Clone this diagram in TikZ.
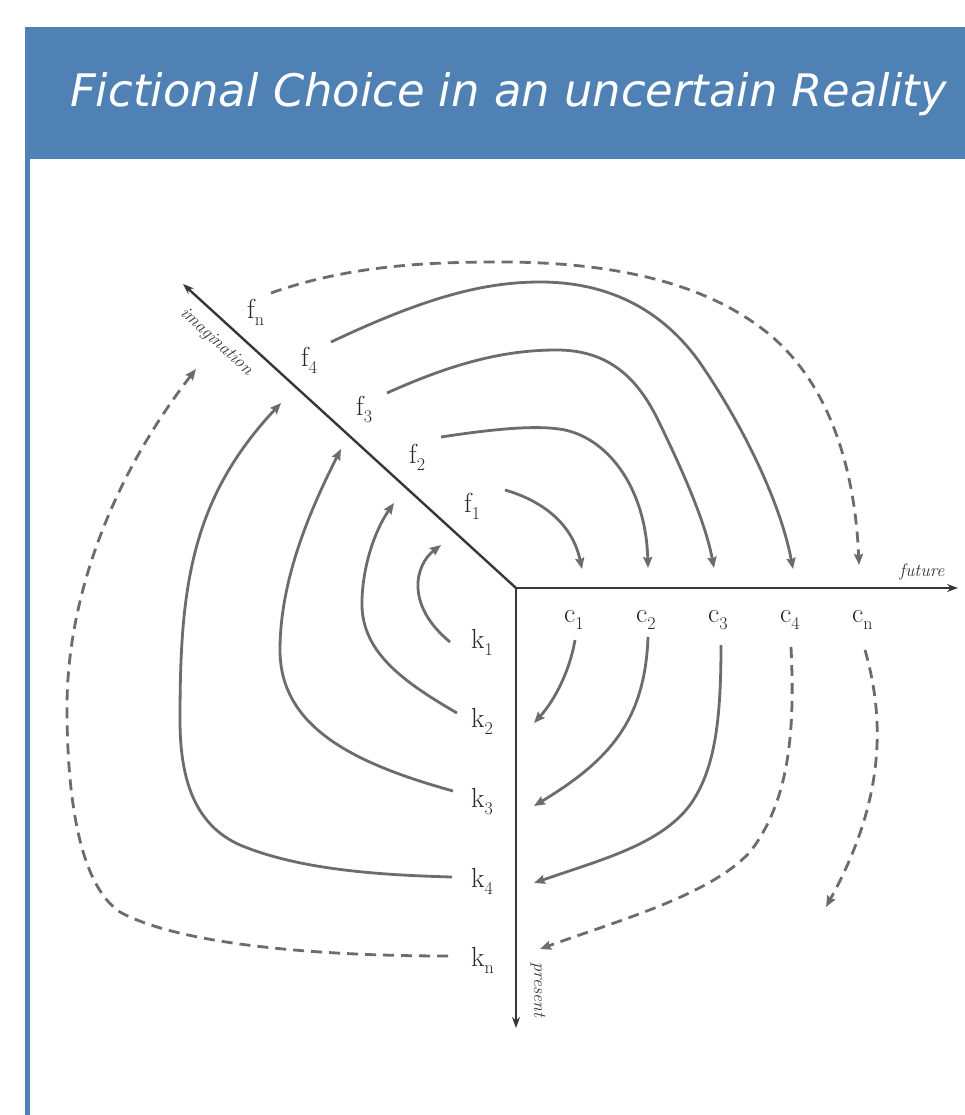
\documentclass[tikz,border=0pt]{standalone}
\usepackage{fontspec}
\newfontfamily\titlefont{DejaVu Sans}
\usetikzlibrary{arrows.meta}
\definecolor{hdrblue}{RGB}{79,129,181}
\definecolor{axisgray}{RGB}{55,55,55}
\definecolor{curvegray}{RGB}{108,108,108}
\newcommand{\lab}[2]{#1\raisebox{-7pt}{\fontsize{18}{18}\selectfont #2}}
\tikzset{
  axisline/.style={line width=2.4pt, draw=axisgray, -{Stealth[length=11pt,width=8pt]}},
  flow/.style={line width=2.8pt, draw=curvegray, -{Stealth[length=11pt,width=9pt,inset=1.5pt]}},
  dflow/.style={flow, dash pattern=on 11pt off 7pt},
  lbl/.style={anchor=base west, inner sep=0pt, font=\fontsize{27.5}{30}\selectfont, text=black!85},
  axlbl/.style={inner sep=0pt, font=\fontsize{18}{20}\selectfont\itshape, text=axisgray}
}
\begin{document}
\begin{tikzpicture}[x=1pt,y=-1pt]
\useasboundingbox (0,0) rectangle (965,1115);
\fill[white] (0,0) rectangle (965,1115);
% header
\fill[hdrblue] (25,27) rectangle (965,159);
\fill[hdrblue] (25,159) rectangle (29.5,1115);
\node[anchor=base west, inner sep=0pt, text=white, font=\titlefont\itshape\fontsize{44.8}{50}\selectfont] (title) at (70,107) {Fictional Choice in an uncertain Reality};

% axes
\coordinate (O) at (516,588);
\coordinate (imgEnd) at (183,284);
\coordinate (futEnd) at (958,588);
\coordinate (preEnd) at (516,1028);
\draw[axisline] (O) -- (imgEnd);
\draw[axisline] (O) -- (futEnd);
\draw[axisline] (O) -- (preEnd);
\node[axlbl, rotate=-42.3] (imgLab) at (216,342) {imagination};
\node[axlbl] (futLab) at (922,572) {future};
\node[axlbl, rotate=-90] (preLab) at (538,990) {present};

% labels
\node[lbl] (fn) at (247,318) {\lab{f}{n}};
\node[lbl] (f4) at (301,366) {\lab{f}{4}};
\node[lbl] (f3) at (356,415) {\lab{f}{3}};
\node[lbl] (f2) at (409,463) {\lab{f}{2}};
\node[lbl] (f1) at (464,512) {\lab{f}{1}};
\node[lbl] (c1) at (564,622) {\lab{c}{1}};
\node[lbl] (c2) at (636,622) {\lab{c}{2}};
\node[lbl] (c3) at (708,622) {\lab{c}{3}};
\node[lbl] (c4) at (780,622) {\lab{c}{4}};
\node[lbl] (cn) at (852,622) {\lab{c}{n}};
\node[lbl] (k1) at (471,648) {\lab{k}{1}};
\node[lbl] (k2) at (471,727) {\lab{k}{2}};
\node[lbl] (k3) at (471,807) {\lab{k}{3}};
\node[lbl] (k4) at (471,887) {\lab{k}{4}};
\node[lbl] (kn) at (471,966) {\lab{k}{n}};

% curve end points
\coordinate (f1s) at (505,490); \coordinate (f1e) at (582,569);
\coordinate (f2s) at (441,437); \coordinate (f2e) at (648,568);
\coordinate (f3s) at (387,393); \coordinate (f3e) at (714,568);
\coordinate (f4s) at (331,342); \coordinate (f4e) at (793,569);
\coordinate (fns) at (271,293); \coordinate (fne) at (859,565);
\coordinate (c1s) at (575,640); \coordinate (c1e) at (534,723);
\coordinate (c2s) at (648,637); \coordinate (c2e) at (534,806);
\coordinate (c3s) at (721,645); \coordinate (c3e) at (534,883);
\coordinate (c4s) at (791,647); \coordinate (c4e) at (540,949);
\coordinate (cns) at (865,650); \coordinate (cne) at (826,907);
\coordinate (k1s) at (450,642); \coordinate (k1e) at (441,545);
\coordinate (k2s) at (457,713); \coordinate (k2e) at (394,503);
\coordinate (k3s) at (453,791); \coordinate (k3e) at (341,449);
\coordinate (k4s) at (452,877); \coordinate (k4e) at (281,403);
\coordinate (kns) at (448,956); \coordinate (kne) at (196,369);

% f curves
\draw[flow] (f1s) .. controls (540,500) and (572,522) .. (f1e);
\draw[flow] (f2s) .. controls (500,428) and (540,425) .. (565,430) .. controls (610,440) and (646,490) .. (f2e);
\draw[flow] (f3s) .. controls (460,360) and (510,350) .. (557,350) .. controls (610,350) and (638,380) .. (657,418) .. controls (680,465) and (705,520) .. (f3e);
\draw[flow] (f4s) .. controls (420,300) and (480,282) .. (540,282) .. controls (615,282) and (665,315) .. (698,360) .. controls (740,420) and (780,500) .. (f4e);
\draw[dflow] (fns) .. controls (350,265) and (430,262) .. (500,262) .. controls (620,262) and (710,285) .. (770,335) .. controls (830,385) and (855,470) .. (fne);

% c curves
\draw[flow] (c1s) .. controls (570,670) and (555,700) .. (c1e);
\draw[flow] (c2s) .. controls (645,720) and (610,760) .. (c2e);
\draw[flow] (c3s) .. controls (721,720) and (715,770) .. (690,805) .. controls (660,845) and (600,860) .. (c3e);
\draw[dflow] (c4s) .. controls (795,730) and (790,800) .. (750,852) .. controls (710,895) and (620,920) .. (c4e);
\draw[dflow] (cns) .. controls (885,720) and (885,800) .. (cne);

% k curves
\draw[flow] (k1s) .. controls (405,605) and (415,565) .. (k1e);
\draw[flow] (k2s) .. controls (400,680) and (360,650) .. (362,600) .. controls (363,565) and (375,530) .. (k2e);
\draw[flow] (k3s) .. controls (360,765) and (280,730) .. (280,650) .. controls (280,580) and (310,510) .. (k3e);
\draw[flow] (k4s) .. controls (380,875) and (300,870) .. (240,845) .. controls (195,825) and (180,780) .. (180,720) .. controls (180,590) and (190,500) .. (k4e);
\draw[dflow] (kns) .. controls (320,956) and (180,945) .. (120,912) .. controls (80,885) and (67,800) .. (67,707) .. controls (67,600) and (110,480) .. (kne);
\end{tikzpicture}
\end{document}
